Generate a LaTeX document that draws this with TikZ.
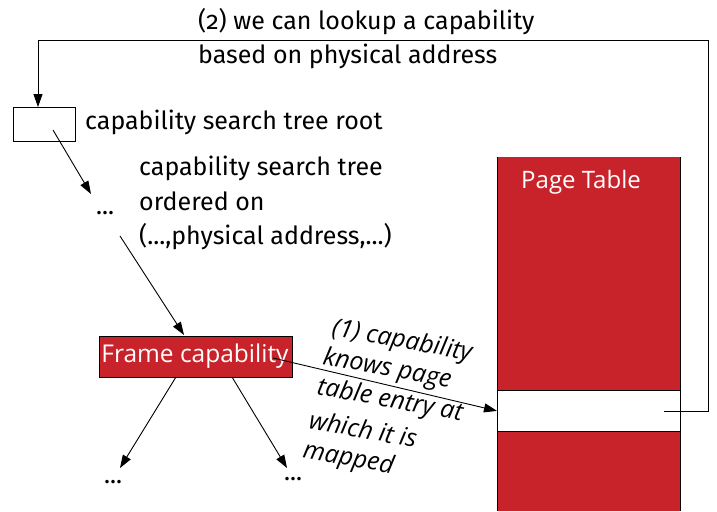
\documentclass[tikz,border=0pt]{standalone}
\usepackage{fontspec}
\setmainfont{Open Sans}
\newfontfamily\lblfont[Numbers=OldStyle]{Fira Sans}
\usetikzlibrary{arrows.meta}
\definecolor{capred}{HTML}{C8232A}
\begin{document}
\begin{tikzpicture}[x=1pt,y=-1pt,
  lbl/.style={font=\lblfont\fontsize{25}{34.5}\selectfont, text=black, inner sep=0pt},
  rot/.style={font=\itshape\fontsize{25}{30}\selectfont, rotate=-10.5, inner sep=0pt, anchor=base west},
  arr/.style={draw=black, line width=0.9pt, -{Triangle[length=13pt,width=9pt]}},
  wire/.style={draw=black, line width=0.9pt}]
\useasboundingbox (0,0) rectangle (717,511);
% page table
\fill[capred] (497,157) rectangle (680,511);
\draw[line width=0.8pt] (497,157) -- (497,511) (680,157) -- (680,511);
\node[draw=black, line width=0.8pt, fill=white, minimum width=183pt, minimum height=41pt, inner sep=0pt, anchor=north west] (pte) at (497,390) {};
\node[font=\fontsize{24}{28}\selectfont, text=white, inner sep=0pt] (pt) at (581,182) {Page Table};
% root
\node[draw=black, line width=0.8pt, fill=white, minimum width=62pt, minimum height=34pt, inner sep=0pt, anchor=north west] (root) at (13,107) {};
\node[lbl, anchor=west] (rootlbl) at (85,122) {capability search tree root};
% dots
\node[lbl] (d1) at (105,213) {...};
\node[lbl, anchor=west, align=left] (treelbl) at (139,203) {capability search tree\\ordered on\\(...,physical address,...)};
% frame capability
\node[draw=black, line width=0.8pt, fill=capred, minimum width=193pt, minimum height=41pt, inner sep=0pt, anchor=north west] (frame) at (99,336) {};
\node[text=white, font=\fontsize{24.5}{28}\selectfont, inner sep=0pt] (framelbl) at (195,356) {Frame capability};
\node[lbl] (d2) at (113,482) {...};
\node[lbl] (d3) at (293,479) {...};
% arrows
\coordinate (r0) at (53,130);
\coordinate (r1) at (91,194);
\draw[arr] (r0) -- (r1);
\coordinate (t0) at (120,236);
\coordinate (t1) at (184,335);
\draw[arr] (t0) -- (t1);
\coordinate (f0) at (176,377);
\coordinate (f1) at (120,468);
\draw[arr] (f0) -- (f1);
\coordinate (g0) at (232,377);
\coordinate (g1) at (287,468);
\draw[arr] (g0) -- (g1);
\coordinate (h0) at (273,358);
\draw[arr] (h0) -- (pte.west);
% lookup loop
\coordinate (l0) at (664,411);
\draw[wire] (l0) -- (708,411) -- (708,40) -- (38,40);
\draw[arr] (38,40) -- (root.north -| 38,107);
\node[lbl, anchor=west] (top1) at (198,22) {(2) we can lookup a capability};
\node[lbl, anchor=west] (top2) at (198,56) {based on physical address};
% rotated label
\node[rot] (one1) at (331,335) {(1) capability};
\node[rot] (one2) at (322,364) {knows page};
\node[rot] (one3) at (316,394) {table entry at};
\node[rot] (one4) at (308,428) {which it is};
\node[rot] (one5) at (302,457) {mapped};
\end{tikzpicture}
\end{document}
